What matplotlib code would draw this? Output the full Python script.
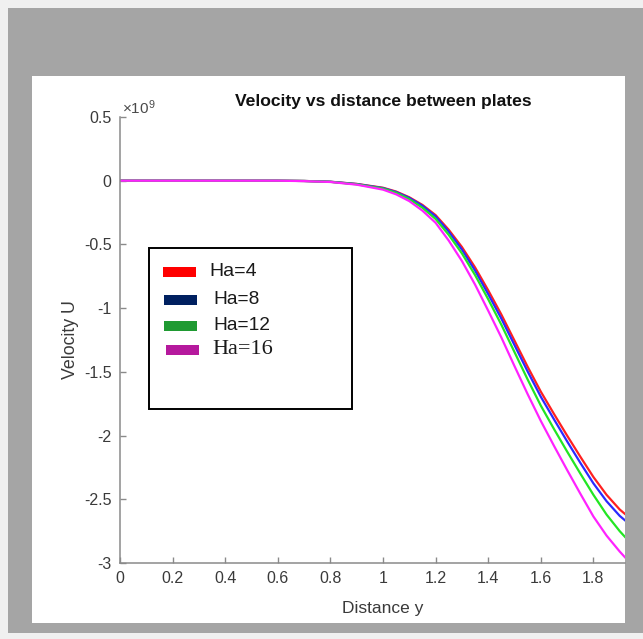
import matplotlib
matplotlib.use("Agg")
import matplotlib.pyplot as plt
from matplotlib.patches import Rectangle
import numpy as np

plt.rcParams['font.family'] = ['Liberation Sans', 'DejaVu Sans']
plt.rcParams['axes.unicode_minus'] = False
plt.rcParams['mathtext.fontset'] = 'custom'
plt.rcParams['mathtext.rm'] = 'Liberation Sans'
plt.rcParams['mathtext.it'] = 'Liberation Sans:italic'

# ---------------- data (velocity in units of 1e9) ----------------
y_dist = [0.0, 0.2, 0.4, 0.6, 0.7, 0.8, 0.9, 1.0, 1.05, 1.1, 1.15, 1.2, 1.25,
          1.3, 1.35, 1.4, 1.45, 1.5, 1.55, 1.6, 1.65, 1.7, 1.75, 1.8, 1.85,
          1.9, 1.92]
u_ha4 = [0, 0, 0, 0, -0.002, -0.008, -0.025, -0.055, -0.085, -0.13, -0.19,
         -0.27, -0.385, -0.52, -0.68, -0.86, -1.05, -1.255, -1.46, -1.655,
         -1.83, -2.0, -2.165, -2.325, -2.465, -2.58, -2.615]
u_ha8 = [0, 0, 0, 0, -0.002, -0.008, -0.026, -0.058, -0.089, -0.135, -0.197,
         -0.28, -0.40, -0.54, -0.705, -0.89, -1.082, -1.29, -1.497, -1.695,
         -1.872, -2.045, -2.213, -2.375, -2.515, -2.63, -2.665]
u_ha12 = [0, 0, 0, 0, -0.002, -0.009, -0.028, -0.062, -0.095, -0.145, -0.212,
          -0.30, -0.425, -0.57, -0.74, -0.93, -1.13, -1.345, -1.56, -1.765,
          -1.948, -2.125, -2.297, -2.465, -2.62, -2.75, -2.795]
u_ha16 = [0, 0, 0, 0, -0.003, -0.010, -0.031, -0.070, -0.107, -0.16, -0.235,
          -0.33, -0.47, -0.63, -0.815, -1.02, -1.23, -1.455, -1.675, -1.885,
          -2.08, -2.27, -2.455, -2.635, -2.785, -2.91, -2.955]
series_labels = ['Ha=4', 'Ha=8', 'Ha=12', 'Ha=16']
series_values = [u_ha4, u_ha8, u_ha12, u_ha16]
line_colors = ['#ff2020', '#2a2aff', '#22e622', '#ff22ff']
legend_colors = ['#ff0000', '#002060', '#1f9a32', '#b5199d']
legend_fonts = ['Liberation Sans', 'Liberation Sans', 'Liberation Sans', 'Liberation Serif']
legend_sizes = [14, 13.8, 13.8, 16]

xticks = [0, 0.2, 0.4, 0.6, 0.8, 1.0, 1.2, 1.4, 1.6, 1.8]
xtick_labels = ['0', '0.2', '0.4', '0.6', '0.8', '1', '1.2', '1.4', '1.6', '1.8']
yticks = [0.5, 0, -0.5, -1, -1.5, -2, -2.5, -3]
ytick_labels = ['0.5', '0', '-0.5', '-1', '-1.5', '-2', '-2.5', '-3']
scale = 1e9

W, H = 643, 639
fig = plt.figure(figsize=(W / 100, H / 100), dpi=100, facecolor='#f0f0f0')


def fx(px):
    return px / W


def fy(py):
    return 1 - py / H


# gray frame and white canvas
fig.add_artist(Rectangle((fx(8), fy(633)), fx(643) - fx(8), fy(8) - fy(633),
                         transform=fig.transFigure, facecolor='#a5a5a5',
                         edgecolor='none', zorder=-5))
fig.add_artist(Rectangle((fx(32), fy(623)), fx(625) - fx(32), fy(76) - fy(623),
                         transform=fig.transFigure, facecolor='white',
                         edgecolor='none', zorder=-4))

ax = fig.add_axes([fx(120), fy(563), fx(625) - fx(120), fy(117) - fy(563)])
ax.patch.set_alpha(0)

x = np.array(y_dist)
for vals, c in zip(series_values, line_colors):
    ax.plot(x, np.array(vals) * scale, color=c, lw=1.6, solid_joinstyle='round')

ax.set_xlim(0, (625 - 120) / 263.0)
ax.set_ylim(-3 * scale, 0.5 * scale)
ax.set_xticks(xticks)
ax.set_xticklabels(xtick_labels)
ax.set_yticks([v * scale for v in yticks])
ax.set_yticklabels(ytick_labels)

spine_c = '#8a8a8a'
for s in ['top', 'right']:
    ax.spines[s].set_visible(False)
for s in ['left', 'bottom']:
    ax.spines[s].set_color(spine_c)
    ax.spines[s].set_linewidth(1.1)
ax.tick_params(direction='in', length=4, width=1, colors=spine_c,
               labelcolor='#3a3a3a', labelsize=11.5, pad=6)

ax.set_title('Velocity vs distance between plates', fontsize=12.6,
             fontweight='bold', color='#111111', x=(383 - 120) / 505.0, pad=8)
ax.set_xlabel('Distance y', fontsize=12.5, color='#3a3a3a')
ax.xaxis.set_label_coords((383 - 120) / 505.0, -0.085)
ax.set_ylabel('Velocity U', fontsize=12.8, color='#3a3a3a')
ax.yaxis.set_label_coords(-0.082, 0.5)

ax.text(0.003, 1.0, r'$\times10^{9}$', transform=ax.transAxes, ha='left',
        va='bottom', fontsize=11, color='#4a4a4a')

# pasted legend box
fig.add_artist(Rectangle((fx(149), fy(409)), fx(352) - fx(149), fy(248) - fy(409),
                         transform=fig.transFigure, facecolor='white',
                         edgecolor='black', lw=1.4, zorder=5))
patch_x = [163, 164, 164, 166]
text_x = [209, 213, 213, 212]
row_y = [272, 300, 326, 350]
for lab, c, px, tx, ry, fam, fs in zip(series_labels, legend_colors, patch_x,
                                       text_x, row_y, legend_fonts, legend_sizes):
    fig.add_artist(Rectangle((fx(px), fy(ry + 5)), fx(33), fy(0) - fy(10),
                             transform=fig.transFigure, facecolor=c,
                             edgecolor='none', zorder=6))
    fig.text(fx(tx), fy(ry), lab, ha='left', va='center', fontsize=fs,
             family=fam, color='#1a1a1a', zorder=7)

fig.savefig('out.png', dpi=100, facecolor=fig.get_facecolor())
